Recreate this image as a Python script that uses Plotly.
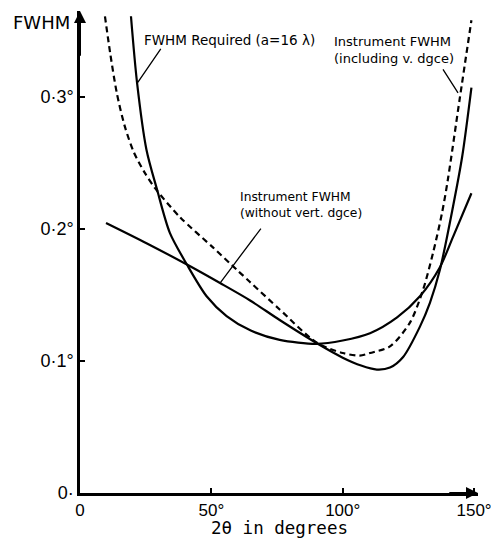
import plotly.graph_objects as go

# FWHM Required (a=16 lambda)
req_x = [19.4, 21.7, 25.3, 29.3, 34.2, 40.7, 48.2, 55.8, 65, 76, 90, 100, 110.4, 120.7, 129.4, 137, 142, 149]
req_y = [0.361, 0.311, 0.260, 0.230, 0.197, 0.173, 0.149, 0.134, 0.123, 0.116, 0.113, 0.1155, 0.121, 0.133, 0.149, 0.171, 0.194, 0.227]

# Instrument FWHM (without vert. dgce)
nov_x = [9.9, 25.5, 40.7, 53.3, 64.6, 76, 90.5, 100, 107, 113, 118, 123, 129.4, 133.2, 137, 142, 145.5, 149]
nov_y = [0.2045, 0.189, 0.173, 0.159, 0.146, 0.131, 0.113, 0.1025, 0.0965, 0.0935, 0.095, 0.103, 0.126, 0.144, 0.169, 0.217, 0.255, 0.307]

# Instrument FWHM (including v. dgce)
inc_x = [9.5, 11.5, 14, 17, 20.5, 24.5, 28.5, 38, 50.6, 59.7, 64.6, 76, 90, 100, 106.5, 110.4, 118, 125.6, 130.6, 134.4, 137.8, 140, 144.5, 149]
inc_y = [0.361, 0.333, 0.303, 0.278, 0.258, 0.243, 0.231, 0.209, 0.186, 0.169, 0.160, 0.139, 0.114, 0.106, 0.104, 0.106, 0.111, 0.129, 0.154, 0.182, 0.212, 0.237, 0.298, 0.358]

x_ticks = [0, 50, 100, 150]
x_labels = ["0", "50°", "100°", "150°"]
y_ticks = [0, 0.1, 0.2, 0.3]
y_labels = ["0·", "0·1°", "0·2°", "0·3°"]

FONT = "DejaVu Sans"
TICKFONT = "Liberation Sans"
fig = go.Figure()
fig.add_trace(go.Scatter(x=req_x, y=req_y, mode="lines", line=dict(color="black", width=2.2, shape="spline", smoothing=0.8)))
fig.add_trace(go.Scatter(x=nov_x, y=nov_y, mode="lines", line=dict(color="black", width=2.2, shape="spline", smoothing=0.8)))
fig.add_trace(go.Scatter(x=inc_x, y=inc_y, mode="lines", line=dict(color="black", width=2.2, dash="6px,4px", shape="spline", smoothing=0.8)))

anns = []
# axis arrows
anns.append(dict(x=151.5, y=0, ax=140, ay=0, xref="x", yref="y", axref="x", ayref="y", text="", showarrow=True,
                 arrowhead=2, arrowsize=1.2, arrowwidth=2, arrowcolor="black"))
anns.append(dict(x=0, y=0.365, ax=0, ay=0.33, xref="x", yref="y", axref="x", ayref="y", text="", showarrow=True,
                 arrowhead=2, arrowsize=1.2, arrowwidth=2, arrowcolor="black"))
# FWHM label
anns.append(dict(x=-0.02, y=0.977, xref="paper", yref="paper", text="FWHM", showarrow=False, xanchor="right", yanchor="middle",
                 font=dict(family=FONT, size=18, color="black")))
# x axis title
anns.append(dict(x=0.5, y=-0.073, xref="paper", yref="paper", text="2θ in degrees", showarrow=False,
                 xanchor="center", yanchor="middle", font=dict(family="DejaVu Sans Mono", size=17.5, color="black")))
# leaders
leader = dict(text="", showarrow=True, arrowhead=0, arrowwidth=1.3, arrowcolor="black", xref="x", yref="y")
anns.append(dict(leader, x=22, y=0.311, ax=24, ay=-35))
anns.append(dict(leader, x=143.9, y=0.303, ax=-16, ay=-25))
anns.append(dict(leader, x=53.3, y=0.159, ax=42, ay=-56))
# curve labels
anns.append(dict(x=23.6, y=0.343, xref="x", yref="y", text="FWHM Required (a=16 λ)", showarrow=False,
                 xanchor="left", yanchor="middle", font=dict(family=FONT, size=13.5, color="black")))
anns.append(dict(x=95.9, y=0.3356, xref="x", yref="y", text="Instrument FWHM<br>(including v. dgce)", showarrow=False,
                 xanchor="left", yanchor="middle", align="left", font=dict(family=FONT, size=13, color="black")))
anns.append(dict(x=60.1, y=0.218, xref="x", yref="y", text="Instrument FWHM<br>(without vert. dgce)", showarrow=False,
                 xanchor="left", yanchor="middle", align="left", font=dict(family=FONT, size=12.3, color="black")))

# page body has an 8px margin, so the figure is sized/offset to land on the 499x539 window
fig.update_layout(
    width=491, height=531,
    margin=dict(l=72, r=21, t=3, b=46),
    paper_bgcolor="white", plot_bgcolor="white",
    showlegend=False,
    annotations=anns,
    xaxis=dict(range=[0, 151.5], tickvals=x_ticks, ticktext=x_labels, showgrid=False, zeroline=False, automargin=False,
               showline=True, linecolor="black", linewidth=2.5, ticks="inside", ticklen=5, tickwidth=1.5,
               tickcolor="black", tickfont=dict(family=TICKFONT, size=17, color="black")),
    yaxis=dict(range=[0, 0.365], tickvals=y_ticks, ticktext=y_labels, showgrid=False, zeroline=False, automargin=False,
               showline=True, linecolor="black", linewidth=2.5, ticks="inside", ticklen=5, tickwidth=1.5,
               tickcolor="black", tickfont=dict(family=TICKFONT, size=18, color="black")),
)
fig.write_html("out.html")
